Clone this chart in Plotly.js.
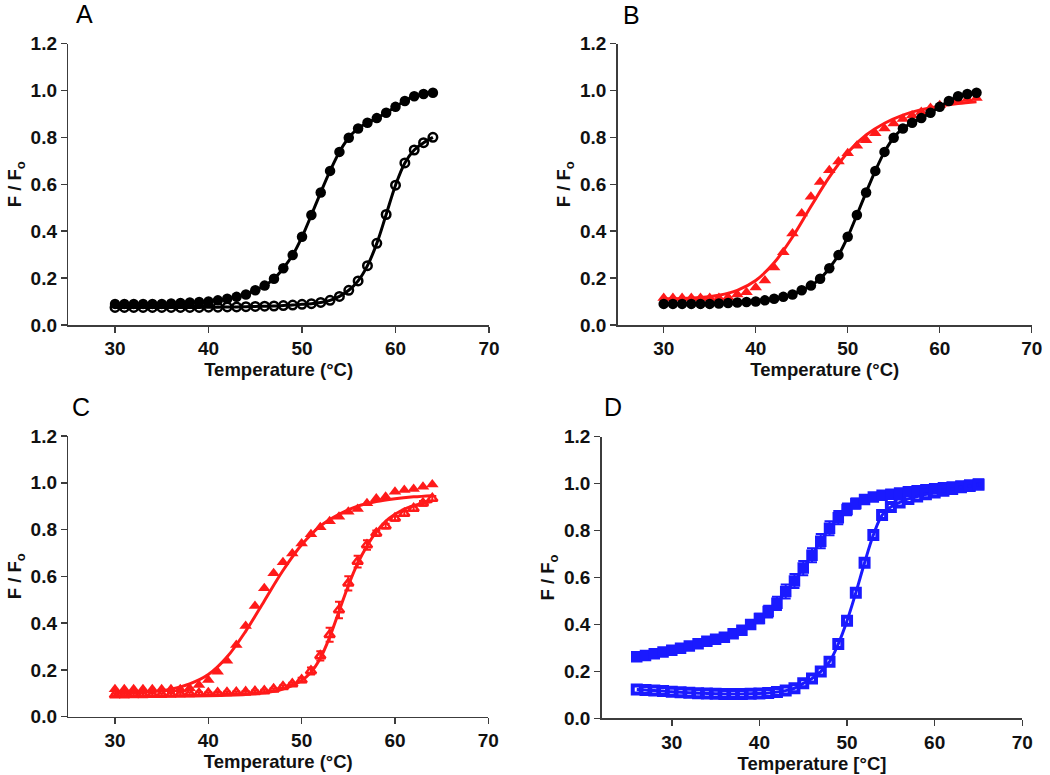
<!DOCTYPE html>
<html>
<head>
<meta charset="utf-8">
<script src="https://cdn.plot.ly/plotly-3.0.1.min.js"></script>
<style>html,body{margin:0;padding:0;background:#fff;}#chart{width:1050px;height:775px;}</style>
</head>
<body>
<div id="chart"></div>
<script>
// ---------- data ----------
var tempABC = [30,31,32,33,34,35,36,37,38,39,40,41,42,43,44,45,46,47,48,49,50,51,52,53,54,55,56,57,58,59,60,61,62,63,64];
var aFilled = [0.09,0.09,0.09,0.09,0.09,0.09,0.092,0.094,0.096,0.098,0.10,0.105,0.112,0.12,0.13,0.148,0.168,0.197,0.242,0.298,0.376,0.469,0.565,0.657,0.738,0.798,0.838,0.862,0.882,0.905,0.93,0.955,0.975,0.985,0.99];
var aOpen = [0.075,0.075,0.075,0.075,0.075,0.075,0.075,0.075,0.075,0.075,0.076,0.076,0.077,0.077,0.078,0.079,0.08,0.081,0.083,0.085,0.088,0.091,0.096,0.105,0.122,0.148,0.188,0.253,0.348,0.471,0.596,0.691,0.746,0.777,0.80];
var bRed = [0.115,0.115,0.115,0.115,0.115,0.115,0.115,0.118,0.13,0.14,0.16,0.19,0.245,0.31,0.39,0.475,0.547,0.61,0.66,0.697,0.732,0.764,0.788,0.817,0.838,0.859,0.878,0.893,0.908,0.925,0.937,0.95,0.958,0.963,0.968];
var fitTemp = [30,32,34,36,38,40,42,44,46,48,50,52,54,56,58,60,62,64];
var bRedFit = [0.112,0.113,0.117,0.127,0.148,0.19,0.265,0.375,0.505,0.63,0.735,0.81,0.86,0.895,0.918,0.933,0.944,0.952];
var cFilled = [0.117,0.117,0.117,0.117,0.117,0.117,0.117,0.117,0.122,0.135,0.157,0.192,0.239,0.306,0.388,0.473,0.549,0.613,0.66,0.698,0.74,0.78,0.81,0.836,0.855,0.876,0.888,0.912,0.933,0.94,0.962,0.969,0.973,0.983,0.993];
var cFilledFit = [0.10,0.102,0.107,0.118,0.14,0.18,0.255,0.365,0.495,0.625,0.735,0.815,0.865,0.9,0.92,0.932,0.94,0.945];
var cOpen = [0.093,0.093,0.094,0.094,0.095,0.095,0.096,0.097,0.098,0.099,0.10,0.101,0.102,0.103,0.105,0.107,0.11,0.117,0.128,0.14,0.157,0.195,0.26,0.35,0.456,0.57,0.663,0.734,0.784,0.815,0.848,0.869,0.89,0.912,0.933];
var cOpenErr = [0.005,0.005,0.005,0.005,0.005,0.005,0.005,0.005,0.005,0.005,0.005,0.005,0.005,0.005,0.005,0.005,0.005,0.005,0.005,0.005,0.01,0.015,0.02,0.03,0.035,0.03,0.025,0.02,0.012,0.01,0.01,0.01,0.01,0.01,0.01];
var cOpenFitTemp = [30,35,40,44,46,48,50,51,52,53,54,55,56,57,58,59,60,61,62,63,64];
var cOpenFit = [0.087,0.088,0.09,0.095,0.102,0.118,0.155,0.19,0.25,0.34,0.45,0.56,0.655,0.73,0.79,0.835,0.865,0.887,0.902,0.912,0.92];
var tempD = [26,27,28,29,30,31,32,33,34,35,36,37,38,39,40,41,42,43,44,45,46,47,48,49,50,51,52,53,54,55,56,57,58,59,60,61,62,63,64,65];
var dFilled = [0.262,0.268,0.275,0.282,0.29,0.298,0.308,0.318,0.328,0.337,0.345,0.36,0.375,0.40,0.425,0.455,0.49,0.54,0.585,0.64,0.695,0.755,0.81,0.855,0.89,0.915,0.932,0.943,0.95,0.955,0.96,0.965,0.97,0.974,0.978,0.982,0.986,0.99,0.994,0.998];
var dFilledErr = [0.008,0.008,0.008,0.008,0.008,0.008,0.008,0.008,0.008,0.008,0.008,0.008,0.012,0.015,0.02,0.025,0.028,0.03,0.03,0.03,0.03,0.03,0.03,0.028,0.025,0.022,0.018,0.014,0.01,0.006,0.006,0.006,0.006,0.006,0.006,0.006,0.006,0.006,0.006,0.006];
var dOpen = [0.123,0.121,0.118,0.116,0.113,0.111,0.109,0.107,0.106,0.105,0.104,0.104,0.104,0.105,0.106,0.108,0.112,0.118,0.128,0.149,0.17,0.199,0.241,0.317,0.416,0.535,0.663,0.781,0.866,0.90,0.92,0.935,0.945,0.955,0.962,0.97,0.977,0.985,0.99,0.995];
var xTicks = [30,40,50,60,70];
var yTicks = [0,0.2,0.4,0.6,0.8,1.0,1.2];
var panelLetters = ['A','B','C','D'];

// ---------- styles ----------
var BLACK = '#000000', RED = '#ff1a1a', BLUE = '#1a1aff';
var FONT = 'Liberation Sans, Arial, Helvetica, sans-serif';

function scatter(x, y, xa, ya, opts) {
  var t = {x: x, y: y, xaxis: xa, yaxis: ya, type: 'scatter', showlegend: false, hoverinfo: 'skip'};
  for (var k in opts) t[k] = opts[k];
  return t;
}

var traces = [
  // A
  scatter(tempABC, aOpen, 'x', 'y', {mode: 'lines+markers', line: {color: BLACK, width: 3, shape: 'spline'},
    marker: {symbol: 'circle-open', size: 8.5, color: BLACK, line: {width: 2.5, color: BLACK}}}),
  scatter(tempABC, aFilled, 'x', 'y', {mode: 'lines+markers', line: {color: BLACK, width: 3, shape: 'spline'},
    marker: {symbol: 'circle', size: 10.5, color: BLACK}}),
  // B
  scatter(tempABC, bRed, 'x2', 'y2', {mode: 'markers', marker: {symbol: 'triangle-up', size: 11, color: RED}}),
  scatter(fitTemp, bRedFit, 'x2', 'y2', {mode: 'lines', line: {color: RED, width: 3, shape: 'spline'}}),
  scatter(tempABC, aFilled, 'x2', 'y2', {mode: 'lines+markers', line: {color: BLACK, width: 3, shape: 'spline'},
    marker: {symbol: 'circle', size: 10.5, color: BLACK}}),
  // C
  scatter(tempABC, cFilled, 'x3', 'y3', {mode: 'markers', marker: {symbol: 'triangle-up', size: 11, color: RED}}),
  scatter(fitTemp, cFilledFit, 'x3', 'y3', {mode: 'lines', line: {color: RED, width: 3, shape: 'spline'}}),
  scatter(tempABC, cOpen, 'x3', 'y3', {mode: 'markers', marker: {symbol: 'triangle-up-open', size: 9, color: RED, line: {width: 2.5, color: RED}},
    error_y: {type: 'data', array: cOpenErr, visible: true, color: RED, thickness: 2, width: 4}}),
  scatter(cOpenFitTemp, cOpenFit, 'x3', 'y3', {mode: 'lines', line: {color: RED, width: 3, shape: 'spline'}}),
  // D
  scatter(tempD, dFilled, 'x4', 'y4', {mode: 'lines+markers', line: {color: BLUE, width: 3, shape: 'spline'},
    marker: {symbol: 'square', size: 11.5, color: BLUE},
    error_y: {type: 'data', array: dFilledErr, visible: true, color: BLUE, thickness: 2, width: 5}}),
  scatter(tempD, dOpen, 'x4', 'y4', {mode: 'lines+markers', line: {color: BLUE, width: 3, shape: 'spline'},
    marker: {symbol: 'square-open', size: 8, color: BLUE, line: {width: 4, color: BLUE}}})
];

function xAxis(domain, anchor, range, title) {
  return {domain: domain, anchor: anchor, range: range, tickvals: xTicks, ticktext: xTicks.map(String),
    showline: true, linecolor: '#3c3c3c', linewidth: 1.5, ticks: 'outside', ticklen: 6, tickwidth: 1.5, tickcolor: '#3c3c3c',
    showgrid: false, zeroline: false, fixedrange: true,
    tickfont: {family: FONT, size: 19, weight: 'bold', color: '#111'},
    title: {text: title, standoff: 5, font: {family: FONT, size: 18.5, weight: 'bold', color: '#111'}}};
}
function yAxis(domain, anchor) {
  return {domain: domain, anchor: anchor, range: [0, 1.2], tickvals: yTicks, ticktext: yTicks.map(function(v){return v.toFixed(1);}),
    showline: true, linecolor: '#3c3c3c', linewidth: 1.5, ticks: 'outside', ticklen: 6, tickwidth: 1.5, tickcolor: '#3c3c3c',
    showgrid: false, zeroline: false, fixedrange: true,
    tickfont: {family: FONT, size: 19, weight: 'bold', color: '#111'},
    title: {text: 'F / F<sub>o</sub>', standoff: 4, font: {family: FONT, size: 18.5, weight: 'bold', color: '#111'}}};
}

var W = 1050, H = 775;
function px(a, b) { return [a / W, b / W]; }
function py(bottomPx, topPx) { return [1 - bottomPx / H, 1 - topPx / H]; }

var layout = {
  width: W, height: H,
  margin: {l: 0, r: 0, t: 0, b: 0},
  paper_bgcolor: '#ffffff', plot_bgcolor: 'rgba(0,0,0,0)',
  showlegend: false,
  xaxis: xAxis(px(68.3, 489), 'y', [25, 70], 'Temperature (°C)'),
  yaxis: yAxis(py(325, 43.5), 'x'),
  xaxis2: xAxis(px(617.7, 1031.7), 'y2', [25, 70], 'Temperature (°C)'),
  yaxis2: yAxis(py(325, 43.5), 'x2'),
  xaxis3: xAxis(px(68.3, 488.3), 'y3', [25, 70], 'Temperature (°C)'),
  yaxis3: yAxis(py(716.7, 436), 'x3'),
  xaxis4: xAxis(px(601.7, 1022.3), 'y4', [22, 70], 'Temperature [°C]'),
  yaxis4: yAxis(py(718.3, 436.7), 'x4'),
  annotations: [
    {text: panelLetters[0], x: 74 / W, y: 1 - 14 / H},
    {text: panelLetters[1], x: 620.5 / W, y: 1 - 15 / H},
    {text: panelLetters[2], x: 69.5 / W, y: 1 - 407 / H},
    {text: panelLetters[3], x: 602 / W, y: 1 - 407.5 / H}
  ].map(function(a) {
    a.xref = 'paper'; a.yref = 'paper'; a.xanchor = 'left'; a.yanchor = 'middle'; a.showarrow = false;
    a.font = {family: FONT, size: 25, color: '#000'};
    return a;
  })
};

Plotly.newPlot('chart', traces, layout, {staticPlot: true, displayModeBar: false});
</script>
</body>
</html>
